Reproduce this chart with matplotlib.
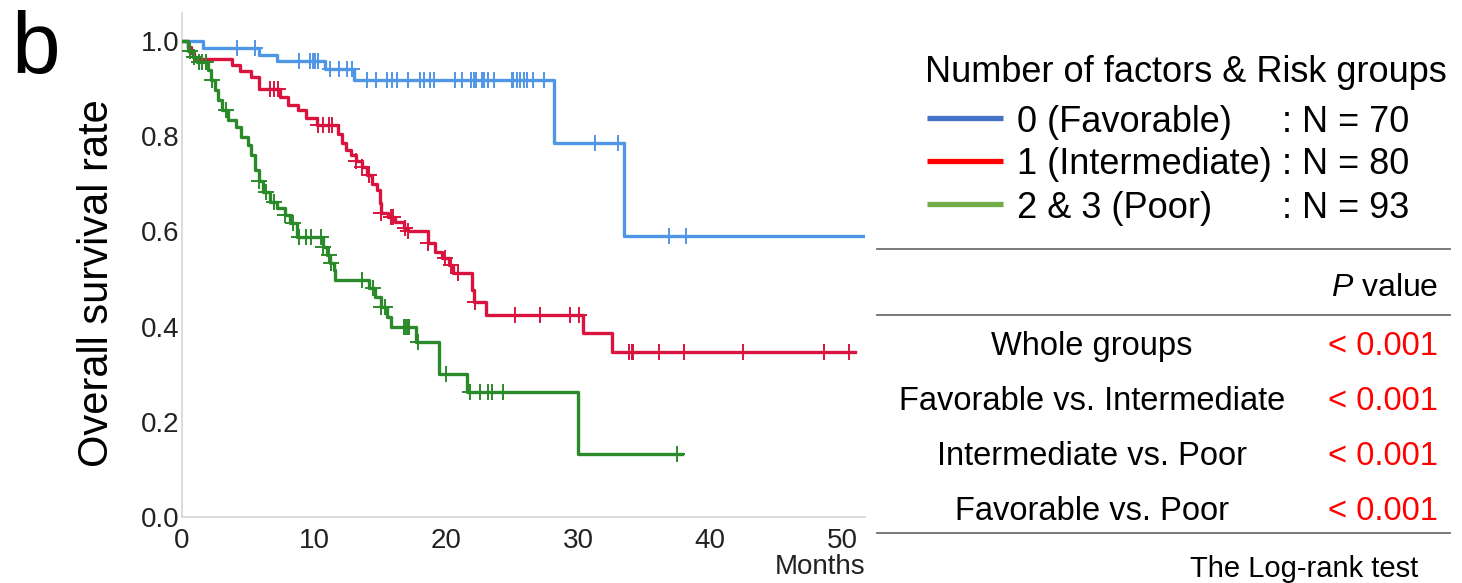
import numpy as np
import matplotlib
matplotlib.use("Agg")
import matplotlib.pyplot as plt

plt.rcParams["font.family"] = ["Liberation Sans", "DejaVu Sans"]
plt.rcParams["mathtext.fontset"] = "custom"
plt.rcParams["mathtext.rm"] = "Liberation Sans"
plt.rcParams["mathtext.it"] = "Liberation Sans:italic"

# Kaplan-Meier curves (event times in months, survival after event)
fav_times = [1.6, 5.8, 7.2, 10.8, 13.0, 28.2, 33.5]
fav_surv = [0.986, 0.971, 0.957, 0.941, 0.918, 0.786, 0.590]
fav_end = 51.6
fav_cens = [4.2, 5.5, 8.9, 9.7, 9.9, 10.1, 10.3, 11.2, 11.9, 12.5, 12.9,
            14.0, 14.7, 15.5, 15.9, 16.3, 17.1, 18.0, 18.3, 18.8, 19.1,
            20.7, 21.2, 21.9, 22.1, 22.3, 22.7, 22.9, 23.2, 23.6, 25.0,
            25.1, 25.4, 25.6, 25.9, 26.1, 26.6, 27.4, 31.3, 33.0, 36.9, 38.2]

int_times = [0.45, 0.7, 0.9, 3.8, 4.4, 5.2, 5.8, 7.4, 8.0, 8.8, 9.4, 10.2,
             11.8, 12.1, 12.4, 12.8, 13.2, 13.6, 14.0, 14.4, 14.8, 15.0,
             15.1, 15.6, 16.1, 16.8, 17.1, 18.6, 19.2, 19.7, 20.2, 20.5,
             22.0, 22.1, 23.0, 30.4, 32.6]
int_surv = [0.9875, 0.975, 0.9625, 0.950, 0.937, 0.925, 0.900, 0.883, 0.866,
            0.855, 0.838, 0.823, 0.805, 0.786, 0.772, 0.760, 0.747, 0.735,
            0.718, 0.700, 0.687, 0.660, 0.638, 0.630, 0.620, 0.607, 0.600,
            0.575, 0.557, 0.544, 0.529, 0.512, 0.477, 0.452, 0.424, 0.386,
            0.347]
int_end = 51.0
int_cens = [6.7, 7.0, 7.3, 10.3, 10.7, 11.1, 11.4, 13.2, 13.6, 14.2, 15.1,
            15.8, 16.0, 16.9, 17.1, 18.6, 19.9, 20.4, 20.9, 22.2, 25.2, 27.1,
            29.4, 30.1, 33.9, 34.1, 34.2, 36.1, 38.0, 42.5, 48.6, 50.5]

poor_times = [0.45, 0.8, 1.1, 2.0, 2.2, 2.5, 2.7, 3.0, 3.5, 4.1, 4.5, 5.0,
              5.2, 5.5, 5.8, 6.1, 6.7, 7.2, 7.8, 8.2, 8.7, 10.7, 11.0, 11.2,
              11.5, 11.6, 14.2, 14.6, 15.1, 15.5, 15.8, 17.7, 19.5, 21.6, 30.0]
poor_surv = [0.978, 0.967, 0.956, 0.939, 0.918, 0.897, 0.876, 0.855, 0.834,
             0.820, 0.798, 0.782, 0.760, 0.730, 0.705, 0.683, 0.662, 0.649,
             0.634, 0.618, 0.588, 0.567, 0.550, 0.533, 0.519, 0.498, 0.481,
             0.463, 0.441, 0.420, 0.400, 0.368, 0.300, 0.263, 0.132]
poor_end = 37.9
poor_cens = [0.6, 0.9, 1.3, 1.5, 1.8, 2.3, 3.3, 5.8, 6.4, 7.0, 7.8, 8.4, 8.9,
             9.4, 9.8, 10.5, 10.7, 11.1, 11.3, 13.6, 14.5, 15.1, 15.4, 16.8,
             16.95, 17.1, 17.2, 17.9, 20.0, 21.8, 22.6, 23.2, 23.5, 24.3, 37.5]

group_labels = ["0 (Favorable)", "1 (Intermediate)", "2 & 3 (Poor)"]
group_n = [70, 80, 93]
curve_colors = ["#5096E6", "#D8143E", "#2A8A2A"]
legend_colors = ["#4472C4", "#FF0000", "#70AD47"]

comparisons = ["Whole groups", "Favorable vs. Intermediate",
               "Intermediate vs. Poor", "Favorable vs. Poor"]
p_values = ["< 0.001", "< 0.001", "< 0.001", "< 0.001"]

W, H = 1462, 583
fig = plt.figure(figsize=(W / 100, H / 100), dpi=100)

ax = fig.add_axes([182 / W, 1 - 517 / H, (865 - 182) / W, (517 - 13) / H])
ax.set_xlim(0, (865 - 182) / 13.2)
ax.set_ylim(0, (517 - 13) / 476)

groups = [
    (fav_times, fav_surv, fav_end, fav_cens),
    (int_times, int_surv, int_end, int_cens),
    (poor_times, poor_surv, poor_end, poor_cens),
]
for (times, surv, end, cens), col in zip(groups, curve_colors):
    t = np.concatenate([[0.0], times, [end]])
    s = np.concatenate([[1.0], surv, [surv[-1]]])
    ax.step(t, s, where="post", color=col, lw=2.4, zorder=3)
    idx = np.searchsorted(t, cens, side="right") - 1
    ax.plot(cens, s[idx], ls="none", marker="+", ms=11, mew=1.4,
            color=col, zorder=4)

ax.set_xticks([0, 10, 20, 30, 40, 50])
ax.set_yticks([0.0, 0.2, 0.4, 0.6, 0.8, 1.0])
ax.set_yticklabels(["0.0", "0.2", "0.4", "0.6", "0.8", "1.0"])
ax.tick_params(length=0, labelsize=20, colors="#222222")
ax.tick_params(axis="y", pad=2)
ax.tick_params(axis="x", pad=8)
for side in ["top", "right"]:
    ax.spines[side].set_visible(False)
for side in ["left", "bottom"]:
    ax.spines[side].set_color("#D6D6D6")
    ax.spines[side].set_linewidth(1.2)
ax.patch.set_alpha(0)

ax.set_xlabel("Months", loc="right", fontsize=20, labelpad=0,
              color="#222222")
fig.text(97 / W, 1 - 283 / H, "Overall survival rate", rotation=90,
         ha="center", va="center", fontsize=30)
fig.text(11 / W, 1 - 73 / H, "b", fontsize=63, ha="left", va="baseline")

# right-hand legend and table, drawn in pixel coordinates
ov = fig.add_axes([0, 0, 1, 1])
ov.set_xlim(0, W)
ov.set_ylim(H, 0)
ov.axis("off")
ov.patch.set_alpha(0)

ov.text(925, 68, "Number of factors & Risk groups", fontsize=26,
        ha="left", va="center_baseline")
for i, (lab, n, col) in enumerate(zip(group_labels, group_n, legend_colors)):
    y = [118, 161, 204][i]
    ov.plot([927, 1003], [y, y], color=col, lw=3.8, solid_capstyle="butt")
    ov.text(1017, y, lab, fontsize=26, ha="left", va="center_baseline")
    ov.text(1282, y, f": N = {n}", fontsize=26, ha="left",
            va="center_baseline")

for y in [249, 315, 533]:
    ov.plot([877, 1450], [y, y], color="#707070", lw=1.3)

ov.text(1438, 285, "$P$ value", fontsize=23, ha="right",
        va="center_baseline")
for i, (comp, p) in enumerate(zip(comparisons, p_values)):
    y = [343, 398, 453, 508][i]
    ov.text(1092, y, comp, fontsize=23.5, ha="center", va="center_baseline")
    ov.text(1438, y, p, fontsize=23.5, ha="right", va="center_baseline",
            color="#FF0000")
ov.text(1418, 566, "The Log-rank test", fontsize=21, ha="right",
        va="center_baseline")

fig.savefig("out.png", dpi=100)
